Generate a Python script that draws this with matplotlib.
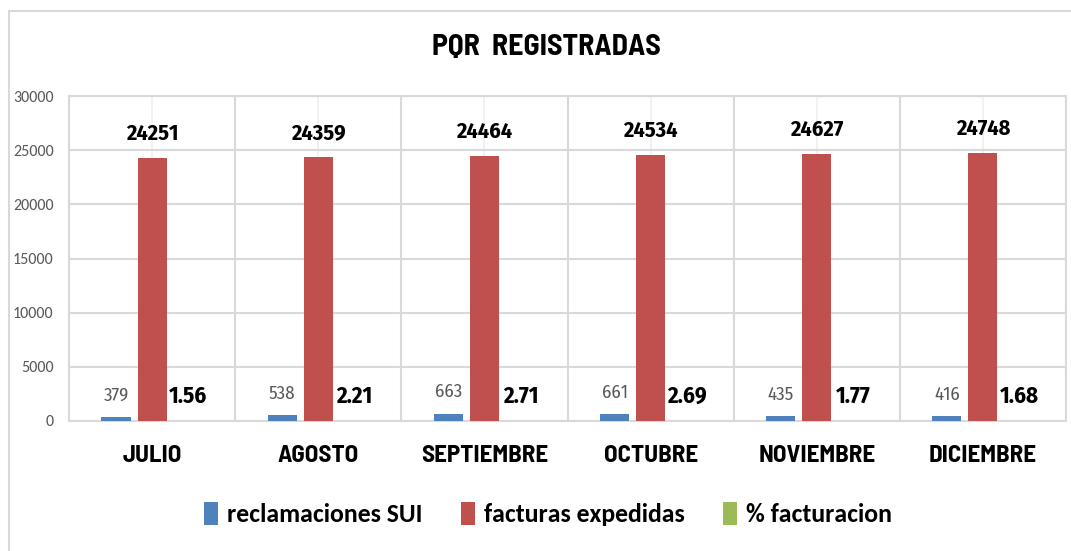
import matplotlib.pyplot as plt
import numpy as np
from matplotlib.patches import Rectangle

plt.rcParams['font.family'] = ['Carlito', 'DejaVu Sans']

meses = ['JULIO', 'AGOSTO', 'SEPTIEMBRE', 'OCTUBRE', 'NOVIEMBRE', 'DICIEMBRE']
reclamaciones = [379, 538, 663, 661, 435, 416]
facturas = [24251, 24359, 24464, 24534, 24627, 24748]
porcentaje = [1.56, 2.21, 2.71, 2.69, 1.77, 1.68]

azul = '#4f81bd'
rojo = '#c0504d'
verde = '#9bbb59'
gris = '#d9d9d9'
fuente_titulo = ['Barlow Semi Condensed', 'DejaVu Sans']
fuente_datos = ['Fira Sans Condensed', 'DejaVu Sans']

fig = plt.figure(figsize=(10.71, 5.51), dpi=100)
ax = fig.add_axes([69 / 1071, 1 - 421 / 551, 997 / 1071, 325 / 551])

# borde exterior del grafico (solo se ven arriba e izquierda)
fig.add_artist(Rectangle((8.5 / 1071, -0.1), 1.2, 1 - 11 / 551 + 0.1,
                         transform=fig.transFigure, fill=False,
                         edgecolor=gris, linewidth=1.5))

x = np.arange(len(meses))
ancho = 0.175
sep = 0.217

b1 = ax.bar(x - sep, reclamaciones, ancho, color=azul, zorder=3, label='reclamaciones SUI')
b2 = ax.bar(x, facturas, ancho, color=rojo, zorder=3, label='facturas expedidas')
b3 = ax.bar(x + sep, porcentaje, ancho, color=verde, zorder=3, label='% facturacion')

# etiquetas de datos
for xi, v in zip(x, reclamaciones):
    ax.annotate(str(v), (xi - sep, v), xytext=(0, 15.5), textcoords='offset points',
                ha='center', va='center', fontsize=13.5, color='#595959', family=fuente_datos)
for xi, v in zip(x, facturas):
    ax.annotate(str(v), (xi, v), xytext=(0, 17.5), textcoords='offset points',
                ha='center', va='center', fontsize=16, fontweight='bold', color='black',
                family=fuente_datos)
for xi, v in zip(x, porcentaje):
    ax.annotate(f'{v:.2f}', (xi + sep, v), xytext=(0, 18), textcoords='offset points',
                ha='center', va='center', fontsize=16.5, fontweight='bold', color='black',
                family=fuente_datos)

ax.set_xlim(-0.5, len(meses) - 0.5)
ax.set_ylim(0, 30000)
ax.set_yticks(range(0, 30001, 5000))
ax.set_xticks(x)
ax.set_xticklabels(meses, fontsize=18, fontweight='bold', family=fuente_titulo)
ax.set_xticks(np.arange(-0.5, len(meses), 1), minor=True)

ax.grid(axis='y', color=gris, linewidth=1.5, zorder=0)
ax.grid(axis='x', which='minor', color=gris, linewidth=1.5, zorder=0)
ax.grid(axis='x', which='major', color='#efefef', linewidth=1.2, zorder=0)

ax.tick_params(axis='y', length=0, labelsize=11.5, labelcolor='#595959', pad=11)
ax.tick_params(axis='x', which='both', length=0, pad=17)
for s in ax.spines.values():
    s.set_color(gris)
    s.set_linewidth(1.5)

fig.text(546 / 1071, 1 - 47 / 551, 'PQR  REGISTRADAS', ha='center', va='center',
         fontsize=21.5, fontweight='bold', family=fuente_titulo)

fig.legend(handles=[b1, b2, b3], loc='center', bbox_to_anchor=(548 / 1071, 1 - 514 / 551),
           ncol=3, frameon=False, prop={'weight': 'bold', 'size': 18.5},
           handlelength=0.55, handleheight=1.0, handletextpad=0.35, columnspacing=1.5)

plt.savefig('out.png', dpi=100)
